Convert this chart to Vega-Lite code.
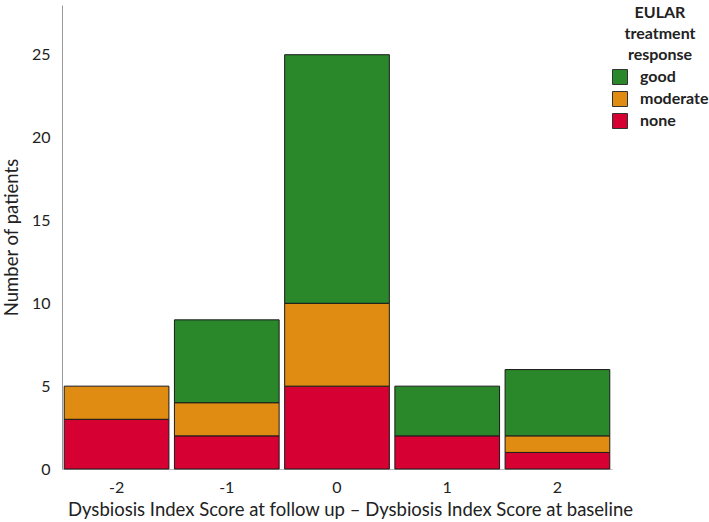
{
  "$schema": "https://vega.github.io/schema/vega-lite/v6.json",
  "autosize": "none",
  "width": 550,
  "height": 464,
  "padding": {"left": 62, "top": 5, "right": 97, "bottom": 53},
  "background": "white",
  "config": {
    "font": "Lato",
    "view": {"stroke": null},
    "axis": {"labelColor": "#222", "titleColor": "#222", "titleFontWeight": "normal"}
  },
  "data": {
    "values": [
      {"score": "-2", "response": "none", "order": 1, "count": 3},
      {"score": "-2", "response": "moderate", "order": 2, "count": 2},
      {"score": "-1", "response": "none", "order": 1, "count": 2},
      {"score": "-1", "response": "moderate", "order": 2, "count": 2},
      {"score": "-1", "response": "good", "order": 3, "count": 5},
      {"score": "0", "response": "none", "order": 1, "count": 5},
      {"score": "0", "response": "moderate", "order": 2, "count": 5},
      {"score": "0", "response": "good", "order": 3, "count": 15},
      {"score": "1", "response": "none", "order": 1, "count": 2},
      {"score": "1", "response": "good", "order": 3, "count": 3},
      {"score": "2", "response": "none", "order": 1, "count": 1},
      {"score": "2", "response": "moderate", "order": 2, "count": 1},
      {"score": "2", "response": "good", "order": 3, "count": 4}
    ]
  },
  "mark": {"type": "bar", "stroke": "#1a1a1a", "strokeWidth": 1},
  "encoding": {
    "x": {
      "field": "score",
      "type": "ordinal",
      "sort": ["-2", "-1", "0", "1", "2"],
      "scale": {"paddingInner": 0.05, "paddingOuter": 0.02},
      "axis": {
        "title": "Dysbiosis Index Score at follow up – Dysbiosis Index Score at baseline",
        "labelAngle": 0,
        "labelFontSize": 16,
        "labelPadding": 10,
        "titleFontSize": 18.5,
        "titlePadding": 5,
        "ticks": false,
        "domainColor": "#bbbbbb",
        "titleX": 288
      }
    },
    "y": {
      "field": "count",
      "type": "quantitative",
      "aggregate": "sum",
      "stack": "zero",
      "scale": {"domain": [0, 28], "nice": false},
      "axis": {
        "title": "Number of patients",
        "values": [0, 5, 10, 15, 20, 25],
        "grid": false,
        "ticks": false,
        "labelFontSize": 16,
        "labelPadding": 12,
        "titleFontSize": 18.5,
        "titlePadding": 10,
        "domainColor": "#999999"
      }
    },
    "color": {
      "field": "response",
      "type": "nominal",
      "scale": {
        "domain": ["good", "moderate", "none"],
        "range": ["#2a872a", "#e08c12", "#d60032"]
      },
      "legend": {
        "title": ["EULAR", "treatment", "response"],
        "orient": "none",
        "legendX": 550,
        "legendY": 0,
        "titleFontSize": 16,
        "titleFontWeight": "bold",
        "titleColor": "#222",
        "titleAnchor": "middle",
        "titleAlign": "center",
        "titleLineHeight": 21,
        "titlePadding": 6,
        "symbolType": "square",
        "symbolSize": 225,
        "symbolStrokeColor": "#333",
        "symbolStrokeWidth": 1,
        "symbolOpacity": 1,
        "labelFontSize": 16,
        "labelFontWeight": "bold",
        "labelColor": "#222",
        "labelOffset": 12,
        "rowPadding": 2
      }
    },
    "order": {"field": "order", "type": "quantitative"}
  }
}
